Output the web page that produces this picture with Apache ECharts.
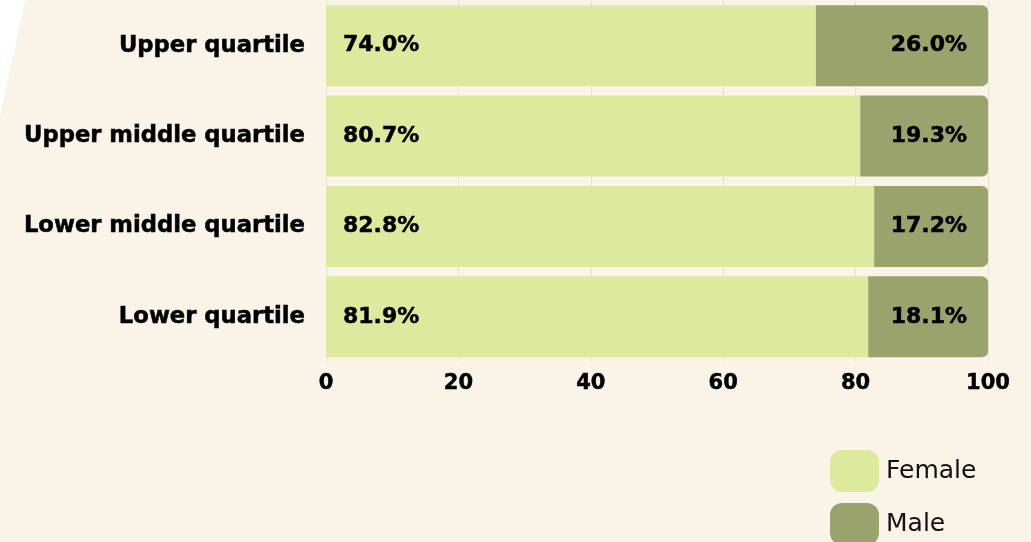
<!DOCTYPE html>
<html><head><meta charset="utf-8">
<script src="https://cdn.jsdelivr.net/npm/echarts@6/dist/echarts.min.js"></script>
<style>html,body{margin:0;padding:0;background:#FAF4E8;}#c{width:1031px;height:542px;}</style>
</head><body><div id="c"></div>
<script>
const categories = ['Upper quartile','Upper middle quartile','Lower middle quartile','Lower quartile'];
const female = [74.0, 80.7, 82.8, 81.9];
const male = [26.0, 19.3, 17.2, 18.1];
const xTicks = [0, 20, 40, 60, 80, 100];

const chart = echarts.init(document.getElementById('c'));
const FONT = '"DejaVu Sans", sans-serif';
const heavy = { textBorderColor: '#000', textBorderWidth: 0.5 };
const legendBase = {
  orient: 'vertical', left: 830, itemWidth: 49, itemHeight: 42,
  icon: 'path://M12,0 L37,0 A12,12 0 0 1 49,12 L49,30 A12,12 0 0 1 37,42 L12,42 A12,12 0 0 1 0,30 L0,12 A12,12 0 0 1 12,0 Z',
  padding: 0, itemGap: 0,
  textStyle: { fontFamily: FONT, fontSize: 25, color: '#111', padding: [0, 0, 0, 2] }
};
chart.setOption({
  backgroundColor: '#FAF4E8',
  animation: false,
  graphic: [{
    type: 'polygon', z: 0,
    shape: { points: [[0,0],[25,0],[0,115]] },
    style: { fill: '#ffffff' }
  }],
  grid: { left: 326, right: 43, top: 0.5, height: 361.5 },
  legend: [
    Object.assign({}, legendBase, { top: 450, data: ['Female'] }),
    Object.assign({}, legendBase, { top: 503, data: ['Male'] })
  ],
  xAxis: {
    type: 'value', min: xTicks[0], max: xTicks[xTicks.length-1], interval: 20,
    axisLine: { show: false }, axisTick: { show: false },
    splitLine: { show: true, lineStyle: { color: '#E4E1D6', width: 1 } },
    axisLabel: Object.assign({ fontFamily: FONT, fontWeight: 'bold', fontSize: 21, color: '#000', margin: 11 }, heavy)
  },
  yAxis: {
    type: 'category', data: categories, inverse: true,
    axisLine: { show: false }, axisTick: { show: false },
    axisLabel: Object.assign({ fontFamily: FONT, fontWeight: 'bold', fontSize: 22.7, color: '#000', margin: 21 }, heavy)
  },
  series: [
    { name: 'Female', type: 'bar', stack: 't', data: female, barCategoryGap: '10.5%',
      itemStyle: { color: '#DDEA9D' },
      label: Object.assign({ show: true, position: 'insideLeft', distance: 17, formatter: p => p.value.toFixed(1) + '%',
        fontFamily: FONT, fontWeight: 'bold', fontSize: 22, color: '#000' }, heavy) },
    { name: 'Male', type: 'bar', stack: 't', data: male,
      itemStyle: { color: '#9BA36C', borderRadius: [0,6,6,0] },
      label: Object.assign({ show: true, position: 'insideRight', distance: 21, formatter: p => p.value.toFixed(1) + '%',
        fontFamily: FONT, fontWeight: 'bold', fontSize: 22, color: '#000' }, heavy) }
  ]
});
</script></body></html>
